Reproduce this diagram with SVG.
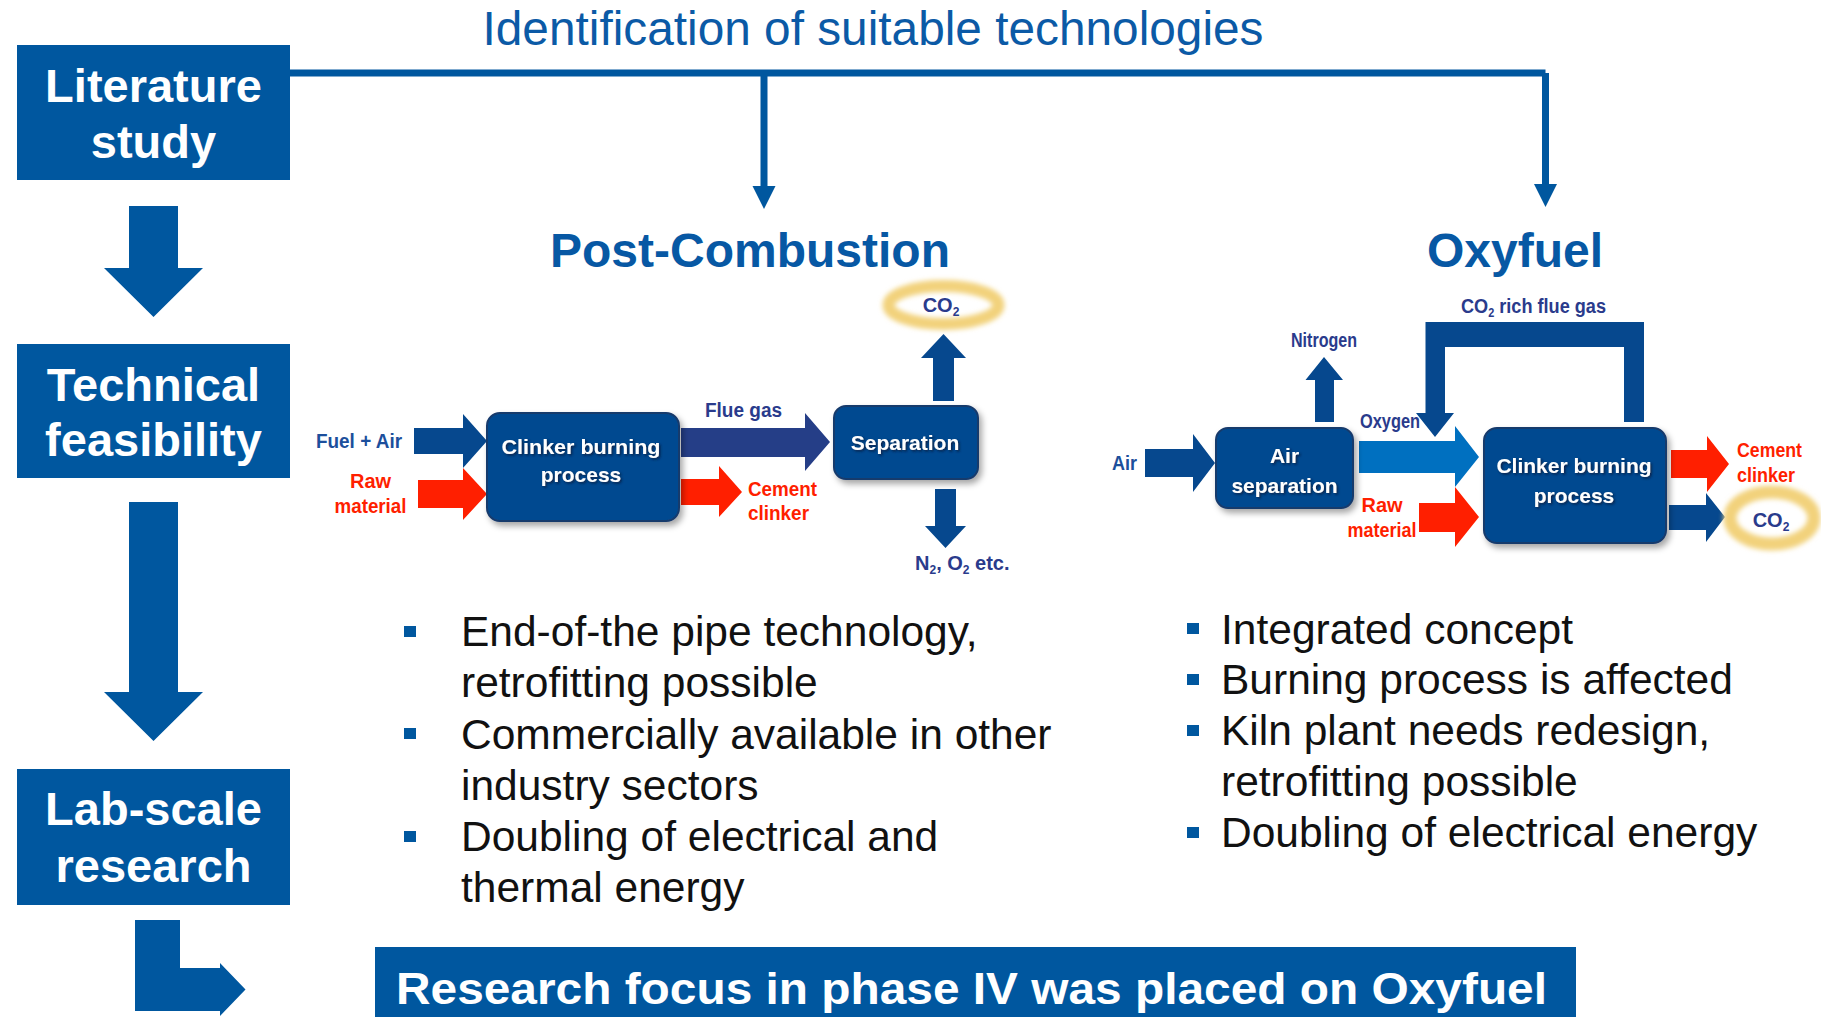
<svg xmlns="http://www.w3.org/2000/svg" width="1821" height="1017" viewBox="0 0 1821 1017">
  <style>
    .stage { fill: #00579f; }
    .stage-text { font-family: "Liberation Sans", Arial, sans-serif; font-weight: bold; font-size: 47px; fill: #ffffff; text-anchor: middle; }
    .head { font-family: "Liberation Sans", Arial, sans-serif; font-weight: bold; font-size: 48px; fill: #0758a4; text-anchor: middle; }
    .proc { fill: #034a90; stroke: #183a6c; stroke-width: 2; }
    .proc-text { font-family: "Liberation Sans", Arial, sans-serif; font-weight: bold; font-size: 21px; fill: #ffffff; text-anchor: middle; }
    .lbl { font-family: "Liberation Sans", Arial, sans-serif; font-weight: bold; font-size: 20px; }
    .blue { fill: #1c4f9c; }
    .navy { fill: #2a3b8c; }
    .red { fill: #ff1f00; }
    .flow { fill: #06488e; }
    .flow-red { fill: #ff1f00; }
    .bullet { fill: #00579f; }
    .btext { font-family: "Liberation Sans", Arial, sans-serif; font-size: 42.5px; fill: #111111; }
    .glow { fill: none; stroke: #f2d27c; }
  </style>
  <defs>
    <filter id="boxShadow" x="-20%" y="-20%" width="150%" height="160%">
      <feDropShadow dx="3" dy="4" stdDeviation="3" flood-color="#000000" flood-opacity="0.35"/>
    </filter>
    <filter id="textShadow" x="-10%" y="-30%" width="130%" height="160%">
      <feDropShadow dx="1.5" dy="1.5" stdDeviation="0.8" flood-color="#0a1f40" flood-opacity="0.9"/>
    </filter>
    <filter id="soft" x="-30%" y="-50%" width="160%" height="200%">
      <feGaussianBlur stdDeviation="2.5"/>
    </filter>
  </defs>

  <rect width="1821" height="1017" fill="#ffffff"/>

  <!-- headline -->
  <text x="873" y="45" font-family="Liberation Sans, Arial, sans-serif" font-size="48" fill="#0b5aa6" text-anchor="middle" textLength="781" lengthAdjust="spacingAndGlyphs">Identification of suitable technologies</text>

  <!-- stage boxes on the left -->
  <g id="literature-study">
    <rect class="stage" x="17" y="45" width="273" height="135"/>
    <text class="stage-text" x="153.5" y="102">Literature</text>
    <text class="stage-text" x="153.5" y="158">study</text>
  </g>
  <g id="technical-feasibility">
    <rect class="stage" x="17" y="344" width="273" height="134"/>
    <text class="stage-text" x="153.5" y="401">Technical</text>
    <text class="stage-text" x="153.5" y="456">feasibility</text>
  </g>
  <g id="lab-scale-research">
    <rect class="stage" x="17" y="769" width="273" height="136"/>
    <text class="stage-text" x="153.5" y="825">Lab-scale</text>
    <text class="stage-text" x="153.5" y="882">research</text>
  </g>
  <g id="research-focus">
    <rect class="stage" x="375" y="947" width="1201" height="75"/>
    <text x="396" y="1004" font-family="Liberation Sans, Arial, sans-serif" font-weight="bold" font-size="44" fill="#ffffff" textLength="1151" lengthAdjust="spacingAndGlyphs">Research focus in phase IV was placed on Oxyfuel</text>
  </g>

  <!-- connectors between stages and to the technologies -->
  <g id="connectors">
    <polygon class="stage" points="129,206 178,206 178,268 203,268 153.5,317 104,268 129,268"/>
    <polygon class="stage" points="129,502 178,502 178,692 203,692 153.5,741 104,692 129,692"/>
    <path class="stage" d="M135,920 L180,920 L180,968 L220,968 L220,963 L245.5,989.5 L220,1016 L220,1011 L135,1011 Z"/>
    <path d="M290,73 H1545.5 M764,73 V190 M1545.5,73 V188" fill="none" stroke="#00579f" stroke-width="7"/>
    <polygon class="stage" points="752.5,186 775.5,186 764,209"/>
    <polygon class="stage" points="1534,184 1557,184 1545.5,207"/>
  </g>

  <!-- Post-Combustion -->
  <g id="post-combustion">
    <text class="head" x="750" y="267">Post-Combustion</text>

    <g id="pc-flows">
      <polygon class="flow" points="414,428 463,428 463,414 487,441 463,468 463,454 414,454"/>
      <polygon class="flow-red" points="418,480 463,480 463,468 487,494 463,520 463,508 418,508"/>
      <polygon fill="#253e87" points="681,428 805,428 805,413 830,442 805,471 805,457 681,457"/>
      <polygon class="flow-red" points="681,479 719,479 719,466 742,492 719,517 719,505 681,505"/>
      <polygon class="flow" points="933,401 933,358 921,358 943.5,334 966,358 954,358 954,401"/>
      <polygon class="flow" points="935,489 956,489 956,526 966,526 945.5,548 925,526 935,526"/>
    </g>

    <g id="pc-clinker-burning">
      <rect class="proc" x="487" y="413" width="192" height="108" rx="13" filter="url(#boxShadow)"/>
      <g filter="url(#textShadow)">
        <text class="proc-text" x="581" y="454" textLength="159" lengthAdjust="spacingAndGlyphs">Clinker burning</text>
        <text class="proc-text" x="581" y="482">process</text>
      </g>
    </g>
    <g id="pc-separation">
      <rect class="proc" x="834" y="406" width="144" height="73" rx="12" filter="url(#boxShadow)"/>
      <text class="proc-text" x="905" y="450" filter="url(#textShadow)">Separation</text>
    </g>

    <g id="pc-co2">
      <ellipse class="glow" cx="943.5" cy="305" rx="55" ry="19" stroke-width="12" filter="url(#soft)"/>
      <text class="lbl navy" x="941" y="312" text-anchor="middle" font-size="19">CO<tspan font-size="12" dy="4">2</tspan></text>
    </g>

    <text class="lbl blue" x="316" y="448" textLength="86" lengthAdjust="spacingAndGlyphs">Fuel + Air</text>
    <text class="lbl red" x="370.5" y="488" text-anchor="middle">Raw</text>
    <text class="lbl red" x="370.5" y="513" text-anchor="middle" textLength="72" lengthAdjust="spacingAndGlyphs">material</text>
    <text class="lbl navy" x="705" y="417" textLength="77" lengthAdjust="spacingAndGlyphs">Flue gas</text>
    <text class="lbl red" x="748" y="496" textLength="69" lengthAdjust="spacingAndGlyphs">Cement</text>
    <text class="lbl red" x="748" y="520" textLength="61" lengthAdjust="spacingAndGlyphs">clinker</text>
    <text class="lbl navy" x="915" y="570" font-size="19">N<tspan font-size="12" dy="4">2</tspan><tspan dy="-4">, O</tspan><tspan font-size="12" dy="4">2</tspan><tspan dy="-4"> etc.</tspan></text>
  </g>

  <!-- Oxyfuel -->
  <g id="oxyfuel">
    <text class="head" x="1515" y="267">Oxyfuel</text>

    <g id="oxy-flows">
      <polygon class="flow" points="1145,449 1193,449 1193,434 1215,463 1193,492 1193,477 1145,477"/>
      <polygon class="flow" points="1315,422 1315,380 1305.5,380 1324,357 1343,380 1334,380 1334,422"/>
      <polygon fill="#0070c0" points="1359,441 1455,441 1455,426 1479,457 1455,487 1455,473 1359,473"/>
      <polygon class="flow-red" points="1419,503 1455,503 1455,487 1479,517 1455,547 1455,532 1419,532"/>
      <path class="flow" d="M1425.5,413 L1425.5,322 L1644,322 L1644,422 L1624,422 L1624,347 L1445,347 L1445,413 L1454,413 L1435,437 L1416,413 Z"/>
      <polygon class="flow-red" points="1671,450 1707,450 1707,436 1729,464 1707,492 1707,478 1671,478"/>
      <polygon class="flow" points="1669,505 1706,505 1706,493 1725,517 1706,542 1706,530 1669,530"/>
    </g>

    <g id="oxy-air-separation">
      <rect class="proc" x="1216" y="428" width="137" height="80" rx="12" filter="url(#boxShadow)"/>
      <g filter="url(#textShadow)">
        <text class="proc-text" x="1284.5" y="463">Air</text>
        <text class="proc-text" x="1284.5" y="493">separation</text>
      </g>
    </g>
    <g id="oxy-clinker-burning">
      <rect class="proc" x="1484" y="428" width="182" height="115" rx="13" filter="url(#boxShadow)"/>
      <g filter="url(#textShadow)">
        <text class="proc-text" x="1574" y="473">Clinker burning</text>
        <text class="proc-text" x="1574" y="503">process</text>
      </g>
    </g>

    <g id="oxy-co2">
      <ellipse class="glow" cx="1772" cy="518" rx="42" ry="26" stroke-width="13" filter="url(#soft)"/>
      <text class="lbl navy" x="1771" y="527" text-anchor="middle" font-size="19">CO<tspan font-size="12" dy="4">2</tspan></text>
    </g>

    <text class="lbl blue" x="1112" y="470" textLength="25" lengthAdjust="spacingAndGlyphs">Air</text>
    <text class="lbl navy" x="1291" y="347" font-size="18" textLength="66" lengthAdjust="spacingAndGlyphs">Nitrogen</text>
    <text class="lbl navy" x="1360" y="428" font-size="18" textLength="60" lengthAdjust="spacingAndGlyphs">Oxygen</text>
    <text class="lbl red" x="1382" y="512" text-anchor="middle">Raw</text>
    <text class="lbl red" x="1382" y="537" text-anchor="middle" textLength="69" lengthAdjust="spacingAndGlyphs">material</text>
    <text class="lbl navy" x="1461" y="313" textLength="145" lengthAdjust="spacingAndGlyphs">CO<tspan font-size="12" dy="4">2</tspan><tspan dy="-4"> rich flue gas</tspan></text>
    <text class="lbl red" x="1737" y="457" textLength="65" lengthAdjust="spacingAndGlyphs">Cement</text>
    <text class="lbl red" x="1737" y="482" textLength="58" lengthAdjust="spacingAndGlyphs">clinker</text>
  </g>

  <!-- bullet lists -->
  <g id="post-combustion-notes">
    <rect class="bullet" x="404" y="626" width="12" height="11"/>
    <rect class="bullet" x="404" y="728" width="12" height="11"/>
    <rect class="bullet" x="404" y="831" width="12" height="11"/>
    <text class="btext" x="461" y="646">End-of-the pipe technology,</text>
    <text class="btext" x="461" y="697">retrofitting possible</text>
    <text class="btext" x="461" y="749">Commercially available in other</text>
    <text class="btext" x="461" y="800">industry sectors</text>
    <text class="btext" x="461" y="851">Doubling of electrical and</text>
    <text class="btext" x="461" y="902">thermal energy</text>
  </g>
  <g id="oxyfuel-notes">
    <rect class="bullet" x="1187" y="623" width="12" height="11"/>
    <rect class="bullet" x="1187" y="674" width="12" height="11"/>
    <rect class="bullet" x="1187" y="725" width="12" height="11"/>
    <rect class="bullet" x="1187" y="827" width="12" height="11"/>
    <text class="btext" x="1221" y="644">Integrated concept</text>
    <text class="btext" x="1221" y="694">Burning process is affected</text>
    <text class="btext" x="1221" y="745">Kiln plant needs redesign,</text>
    <text class="btext" x="1221" y="796">retrofitting possible</text>
    <text class="btext" x="1221" y="847">Doubling of electrical energy</text>
  </g>
</svg>
